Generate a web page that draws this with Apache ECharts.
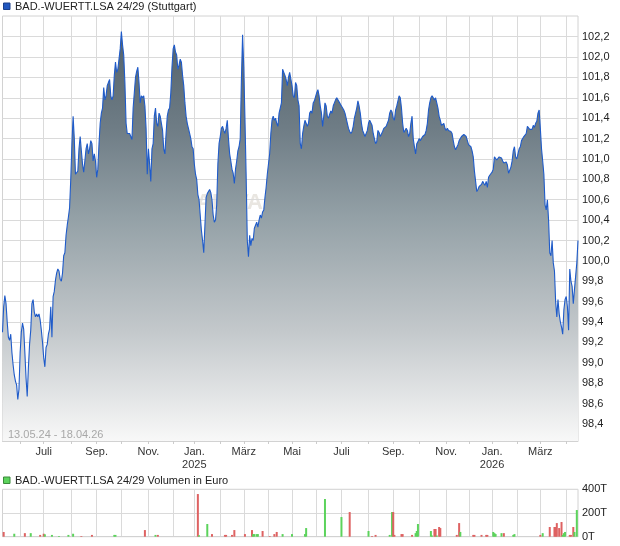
<!DOCTYPE html>
<html>
<head>
<meta charset="utf-8">
<script src="https://cdn.jsdelivr.net/npm/echarts@6/dist/echarts.min.js"></script>
<style>
html,body{margin:0;padding:0;background:#fff;}
#chart{width:620px;height:546px;}
</style>
</head>
<body>
<div id="chart"></div>
<script>
// ---------- DATA ----------
const priceTitle = 'BAD.-WUERTT.LSA 24/29 (Stuttgart)';
const volumeTitle = 'BAD.-WUERTT.LSA 24/29 Volumen in Euro';
const rangeText = '13.05.24 - 18.04.26';
const watermarkText = 'ARIVA.DE';
const firstDay = '2024-05-13';
const lastDay = '2026-04-17';
const holidays = ['2024-12-24','2024-12-25','2024-12-26','2024-12-31','2025-01-01',
  '2025-04-18','2025-04-21','2025-05-01','2025-12-24','2025-12-25','2025-12-26',
  '2025-12-31','2026-01-01','2026-04-03','2026-04-06'];
const monthNames = ['Jan.','Feb.','März','Apr.','Mai','Juni','Juli','Aug.','Sep.','Okt.','Nov.','Dez.'];
const priceTicks = [98.4,98.6,98.8,99.0,99.2,99.4,99.6,99.8,100.0,100.2,100.4,100.6,100.8,101.0,101.2,101.4,101.6,101.8,102.0,102.2];

// closing prices, one per trading day, grouped by month
const prices = [
  // May 2024
  99.30,99.55,99.66,99.58,99.40,99.25,99.22,99.28,99.10,98.98,98.88,98.82,98.78,98.64,98.74,
  // Jun 2024
  99.10,99.30,99.39,99.33,99.10,98.85,98.67,98.95,99.18,99.32,99.58,99.62,99.50,99.45,99.48,99.45,99.48,99.42,99.32,99.20,
  // Jul 2024
  99.05,98.96,99.15,99.18,99.28,99.33,99.55,99.25,99.65,99.70,99.81,99.88,99.92,99.90,99.82,99.80,99.88,100.05,100.08,100.25,100.35,100.43,100.52,
  // Aug 2024
  100.80,101.15,101.42,101.20,100.85,100.86,100.88,101.10,101.22,101.08,100.95,100.87,100.88,101.10,101.15,101.05,101.10,101.18,101.15,100.98,101.05,100.98,
  // Sep 2024
  100.82,100.90,101.15,101.35,101.45,101.50,101.70,101.58,101.62,101.72,101.75,101.78,101.62,101.58,101.62,101.82,101.95,101.85,101.88,101.98,102.08,
  // Oct 2024
  102.25,102.12,102.02,101.75,101.35,101.25,101.26,101.25,101.22,101.19,101.50,101.65,101.80,101.86,101.90,101.75,101.55,101.62,101.60,101.62,101.52,101.30,100.85,
  // Nov 2024
  101.10,100.95,100.78,101.10,101.15,101.42,101.50,101.35,101.32,101.45,101.42,101.35,101.28,101.10,101.05,101.25,101.42,101.48,101.50,101.65,101.90,
  // Dec 2024
  102.08,102.12,102.05,102.02,101.88,101.92,101.98,101.95,101.82,101.72,101.55,101.42,101.35,101.30,101.25,101.20,101.12,101.10,
  // Jan 2025
  100.95,100.85,100.80,100.65,100.60,100.45,100.30,100.20,100.08,100.35,100.62,100.66,100.68,100.70,100.67,100.60,100.45,100.38,100.40,100.55,100.95,101.15,
  // Feb 2025
  101.22,101.30,101.32,101.28,101.25,101.30,101.38,101.20,101.05,100.98,100.90,100.86,100.76,100.90,100.98,101.08,101.12,101.20,101.78,102.22,
  // Mar 2025
  101.90,101.40,100.85,100.20,100.04,100.25,100.15,100.22,100.20,100.32,100.35,100.38,100.33,100.40,100.45,100.42,100.48,100.50,100.62,100.72,100.85,
  // Apr 2025
  100.95,101.05,101.25,101.38,101.42,101.38,101.40,101.35,101.32,101.45,101.50,101.55,101.88,101.85,101.82,101.78,101.72,101.80,101.85,101.86,
  // May 2025
  101.72,101.62,101.60,101.75,101.72,101.58,101.52,101.15,101.10,101.25,101.32,101.38,101.35,101.32,101.35,101.45,101.47,101.45,101.55,101.57,101.58,
  // Jun 2025
  101.65,101.68,101.62,101.52,101.45,101.32,101.42,101.55,101.52,101.42,101.40,101.44,101.47,101.45,101.52,101.55,101.58,101.60,101.58,101.56,101.55,
  // Jul 2025
  101.52,101.50,101.48,101.45,101.40,101.35,101.30,101.27,101.25,101.27,101.32,101.40,101.45,101.50,101.57,101.52,101.45,101.35,101.28,101.25,101.22,101.23,101.28,
  // Aug 2025
  101.35,101.38,101.38,101.33,101.25,101.20,101.15,101.17,101.28,101.26,101.22,101.21,101.27,101.30,101.30,101.32,101.35,101.38,101.45,101.48,101.46,
  // Sep 2025
  101.40,101.38,101.48,101.52,101.57,101.62,101.60,101.50,101.35,101.26,101.28,101.30,101.28,101.22,101.25,101.35,101.42,101.20,101.12,101.05,101.15,101.17,
  // Oct 2025
  101.20,101.18,101.20,101.22,101.21,101.24,101.28,101.35,101.48,101.55,101.60,101.62,101.60,101.58,101.60,101.55,101.50,101.42,101.38,101.33,101.32,101.35,101.30,
  // Nov 2025
  101.28,101.30,101.28,101.29,101.27,101.25,101.18,101.12,101.09,101.10,101.14,101.18,101.20,101.22,101.23,101.24,101.24,101.22,101.18,101.14,
  // Dec 2025
  101.13,101.12,101.08,101.02,100.88,100.78,100.68,100.70,100.73,100.74,100.75,100.78,100.76,100.74,100.78,100.72,100.82,100.84,100.85,
  // Jan 2026
  100.87,100.90,101.02,101.03,100.99,100.98,101.02,101.03,101.01,100.98,100.96,100.95,100.97,100.94,100.86,100.85,100.92,100.98,101.08,101.12,101.02,
  // Feb 2026
  101.00,101.05,101.10,101.12,101.18,101.20,101.22,101.21,101.25,101.32,101.31,101.29,101.28,101.29,101.33,101.31,101.35,101.37,101.45,101.48,
  // Mar 2026
  101.30,101.10,100.98,100.85,100.55,100.50,100.60,100.40,100.08,100.05,100.20,99.98,99.90,99.60,99.45,99.62,99.48,99.40,99.35,99.28,99.52,99.62,
  // Apr 2026
  99.65,99.55,99.32,99.92,99.80,99.75,99.58,99.72,99.85,99.98,100.20
];

// volume (thousand euro) on the trading days that had turnover: day index, amount, direction
const volumeDay = [1,10,19,24,32,35,36,42,48,56,60,67,76,95,96,121,130,132,166,167,174,178,189,190,195,197,206,212,213,214,216,217,221,227,231,233,238,246,257,258,
  274,288,295,311,314,317,329,331,332,333,339,340,348,351,352,353,364,365,367,368,369,371,372,386,388,389,400,401,407,411,412,417,418,419,424,426,434,435,
  457,459,465,469,470,471,473,475,476,477,478,482,483,485,486,488];
const volumeAmount = [40,25,30,30,15,25,20,15,6,15,25,6,15,15,15,56,15,15,360,12,107,22,15,15,15,56,22,56,22,22,22,22,48,6,22,40,22,22,22,73,
  318,166,208,48,6,15,15,208,208,15,22,22,15,30,48,107,48,10,65,65,10,82,73,15,115,40,15,15,15,15,15,40,30,22,30,30,15,22,
  15,30,82,82,82,115,73,124,15,30,40,15,15,82,40,225];
// 'g' = up (green), 'd' = down (red)
const volumeDir = [
 'd','g','d','g','d','d','g','g','g','g','g','d','d','g','g','d','g','d','d','g','g','d','d','d','d','d','d','d','g','g','g','g','d','d','d','d','g','g','g','g',
 'g','g','d','g','d','d','g','g','d','d','d','d','d','g','g','g','g','g','d','d','g','d','d','d','d','g','d','d','d','d','d','g','g','g','g','d','g','g',
 'd','g','d','d','d','d','d','d','g','g','g','d','d','d','g','g'
];

// ---------- BUILD ----------
const holidaySet = new Set(holidays);
const dates = [];
{
  const d = new Date(firstDay + 'T12:00:00Z');
  const end = new Date(lastDay + 'T12:00:00Z');
  while (d <= end) {
    const wd = d.getUTCDay();
    const s = d.toISOString().slice(0, 10);
    if (wd !== 0 && wd !== 6 && !holidaySet.has(s)) dates.push(s);
    d.setUTCDate(d.getUTCDate() + 1);
  }
}
const monthStart = dates.map((s, i) => i > 0 && s.slice(5, 7) !== dates[i - 1].slice(5, 7));
const isMonthStart = (i) => !!monthStart[i];
const isLabelMonth = (i) => monthStart[i] && (parseInt(dates[i].slice(5, 7), 10) % 2 === 1);

const volumeData = dates.map(() => null);
volumeDay.forEach((idx, k) => {
  volumeData[idx] = {
    value: volumeAmount[k],
    itemStyle: { color: volumeDir[k] === 'g' ? '#5cd35c' : '#de6262' }
  };
});

const FONT = '"Liberation Sans", Arial, sans-serif';
const gridLine = { color: '#dadada', width: 1 };

const chart = echarts.init(document.getElementById('chart'), null, { renderer: 'canvas' });
chart.setOption({
  animation: false,
  backgroundColor: '#ffffff',
  textStyle: { fontFamily: FONT },
  grid: [
    { left: 2.5, right: 42, top: 16, bottom: 105, show: true, borderColor: '#d2d2d2', borderWidth: 1, containLabel: false },
    { left: 2.5, right: 42, top: 489.3, bottom: 9.3, show: true, borderColor: '#d2d2d2', borderWidth: 1, containLabel: false }
  ],
  xAxis: [
    {
      type: 'category', gridIndex: 0, data: dates, boundaryGap: false,
      axisLine: { show: true, lineStyle: { color: '#d2d2d2' } },
      axisTick: { show: true, length: 3, interval: (i) => isMonthStart(i), lineStyle: { color: '#cccccc' } },
      splitLine: { show: true, interval: (i) => isMonthStart(i), lineStyle: gridLine },
      axisLabel: {
        interval: (i) => isLabelMonth(i),
        margin: 4, color: '#333', fontSize: 11, fontFamily: FONT, lineHeight: 13,
        formatter: (v) => {
          const m = parseInt(v.slice(5, 7), 10);
          return m === 1 ? monthNames[0] + '\n' + v.slice(0, 4) : monthNames[m - 1];
        }
      }
    },
    {
      type: 'category', gridIndex: 1, data: dates, boundaryGap: false,
      axisLine: { show: true, lineStyle: { color: '#d2d2d2' } },
      axisTick: { show: false },
      splitLine: { show: true, interval: (i) => isMonthStart(i), lineStyle: gridLine },
      axisLabel: { show: false }
    }
  ],
  yAxis: [
    {
      type: 'value', gridIndex: 0, position: 'right', scale: true,
      min: 98.232, max: 102.403,
      axisLine: { show: false },
      axisTick: { show: false, customValues: priceTicks },
      splitLine: { show: true, lineStyle: gridLine },
      axisLabel: {
        customValues: priceTicks, margin: 4, color: '#222', fontSize: 11, fontFamily: FONT,
        formatter: (v) => v.toFixed(1).replace('.', ',')
      }
    },
    {
      type: 'value', gridIndex: 1, position: 'right', min: 0, max: 400, interval: 200,
      axisLine: { show: false }, axisTick: { show: false },
      splitLine: { show: true, lineStyle: gridLine },
      axisLabel: { margin: 4, color: '#222', fontSize: 11, fontFamily: FONT, formatter: (v) => v + 'T' }
    }
  ],
  graphic: [
    { type: 'text', left: 196, top: 192, z: 0, silent: true,
      style: { text: watermarkText, fill: '#e9e6e1', font: 'bold 22px ' + FONT } },
    { type: 'rect', shape: { x: 3.5, y: 3, width: 6.5, height: 6.5 }, style: { fill: '#2157bf', stroke: '#1a3f8a', lineWidth: 1 }, z: 10 },
    { type: 'text', x: 15, y: 7, z: 10,
      style: { text: priceTitle, fill: '#222', font: '11px ' + FONT, textVerticalAlign: 'middle', verticalAlign: 'middle' } },
    { type: 'rect', shape: { x: 3.5, y: 477, width: 6.5, height: 6.5 }, style: { fill: '#5cd35c', stroke: '#3a8a3a', lineWidth: 1 }, z: 10 },
    { type: 'text', x: 15, y: 480.5, z: 10,
      style: { text: volumeTitle, fill: '#222', font: '11px ' + FONT, textVerticalAlign: 'middle', verticalAlign: 'middle' } },
    { type: 'text', x: 8, y: 434.5, z: 10,
      style: { text: rangeText, fill: '#a8a8a8', font: '11px ' + FONT, textVerticalAlign: 'middle', verticalAlign: 'middle' } }
  ],
  series: [
    {
      type: 'line', xAxisIndex: 0, yAxisIndex: 0, data: prices,
      showSymbol: false, symbol: 'none', smooth: false, z: 3,
      lineStyle: { color: '#1f5bc9', width: 1.1 },
      areaStyle: {
        opacity: 1,
        color: new echarts.graphic.LinearGradient(0, 0, 0, 1, [
          { offset: 0, color: '#52616a' },
          { offset: 0.24, color: '#6f7d86' },
          { offset: 0.45, color: '#93a0a6' },
          { offset: 0.73, color: '#c3c8cb' },
          { offset: 1, color: '#f8f8f8' }
        ])
      }
    },
    {
      type: 'bar', xAxisIndex: 1, yAxisIndex: 1, data: volumeData,
      barWidth: 2, barMinHeight: 0
    }
  ]
});
</script>
</body>
</html>
